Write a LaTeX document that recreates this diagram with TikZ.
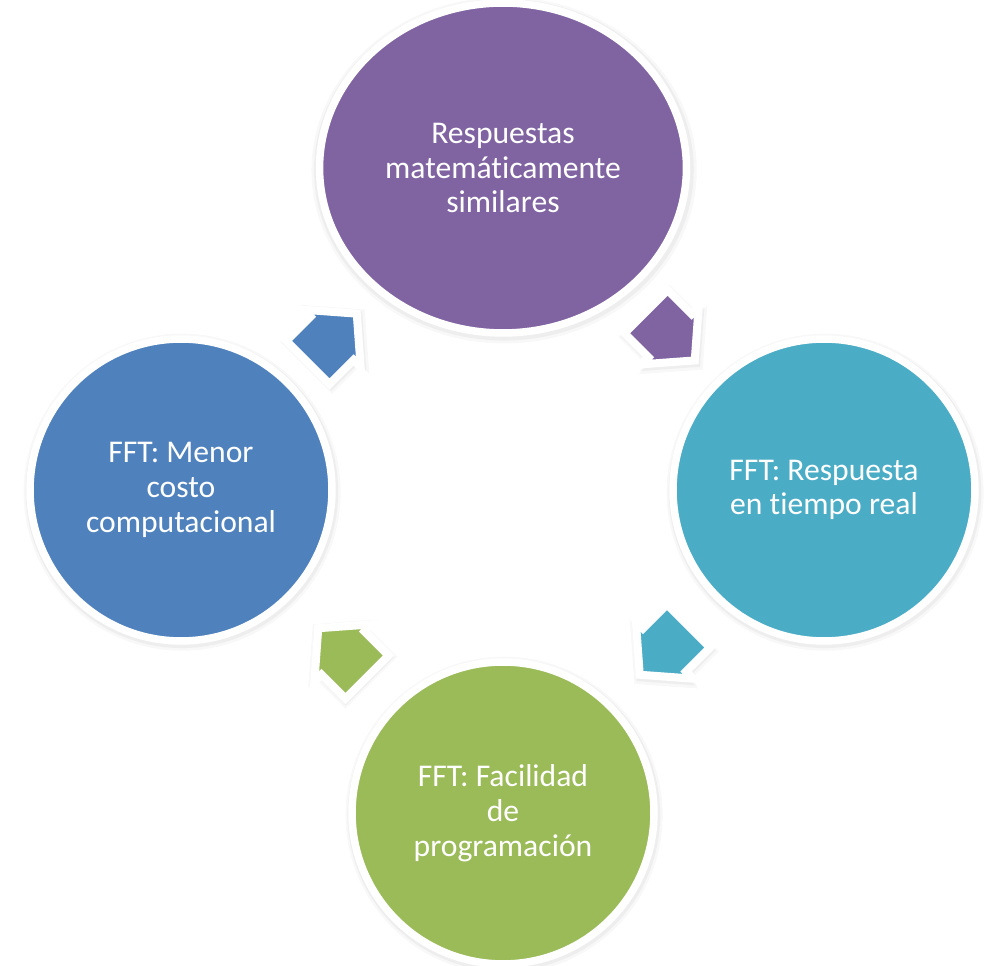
\documentclass[tikz,border=0pt]{standalone}
\usepackage{fontspec}
\setmainfont{Carlito}[Ligatures={NoCommon,NoRare,NoContextual},Contextuals=NoAlternate]
\usetikzlibrary{calc,shapes.geometric,shadows}

\definecolor{cpurple}{HTML}{8064A2}
\definecolor{cteal}{HTML}{4BACC6}
\definecolor{cgreen}{HTML}{9BBB59}
\definecolor{cblue}{HTML}{4F81BD}

\begin{document}
\begin{tikzpicture}[
  x=0.02cm, y=0.02cm,
  softdisc/.style={drop shadow={opacity=0.06, shadow scale=1.05, shadow xshift=0.6pt, shadow yshift=-1.2pt},
    drop shadow={opacity=0.08, shadow scale=1.035, shadow xshift=0.5pt, shadow yshift=-1pt}},
  softarrow/.style={drop shadow={opacity=0.06, shadow scale=1.2, shadow xshift=0.6pt, shadow yshift=-1.2pt},
    drop shadow={opacity=0.08, shadow scale=1.13, shadow xshift=0.5pt, shadow yshift=-1pt}},
  disc/.style={circle, draw=white, line width=0.15cm, minimum size=6.04cm, inner sep=0pt,
    softdisc, text=white, align=center, font=\fontsize{18}{19.8}\selectfont},
  blockarrow/.style={draw=white, line width=0.16cm, line join=miter, softarrow},
]
\useasboundingbox (0,0) rectangle (987,966);

%--- the four stages ----------------------------------------------------
\node[disc, ellipse, minimum width=7.34cm, minimum height=6.6cm, fill=cpurple]
  (resp) at (503,798) {Respuestas\\matemáticamente\\similares};
\node[disc, fill=cteal]  (tiempo) at (824,476) {FFT: Respuesta\\en tiempo real};
\node[disc, fill=cgreen] (prog)   at (503,153) {FFT: Facilidad\\de\\programación};
\node[disc, fill=cblue]  (costo)  at (181,476) {FFT: Menor\\costo\\computacional};

%--- block arrows between the stages ------------------------------------
\foreach \a/\b/\dx/\dy/\rot/\col in {resp/tiempo/6.5/-6.7/-45/cpurple,
    tiempo/prog/1/1.5/-135/cteal, prog/costo/1/-1.5/135/cgreen,
    costo/resp/-10/-9.4/45/cblue}{
  \draw[blockarrow, fill=\col, shift={($(\a)!0.5!(\b)+(\dx,\dy)$)}, rotate=\rot]
    (-34,30.5) -- (0,30.5) -- (0,40.5) -- (35,0) -- (0,-40.5) -- (0,-30.5) -- (-34,-30.5) -- cycle;
}

\end{tikzpicture}
\end{document}
